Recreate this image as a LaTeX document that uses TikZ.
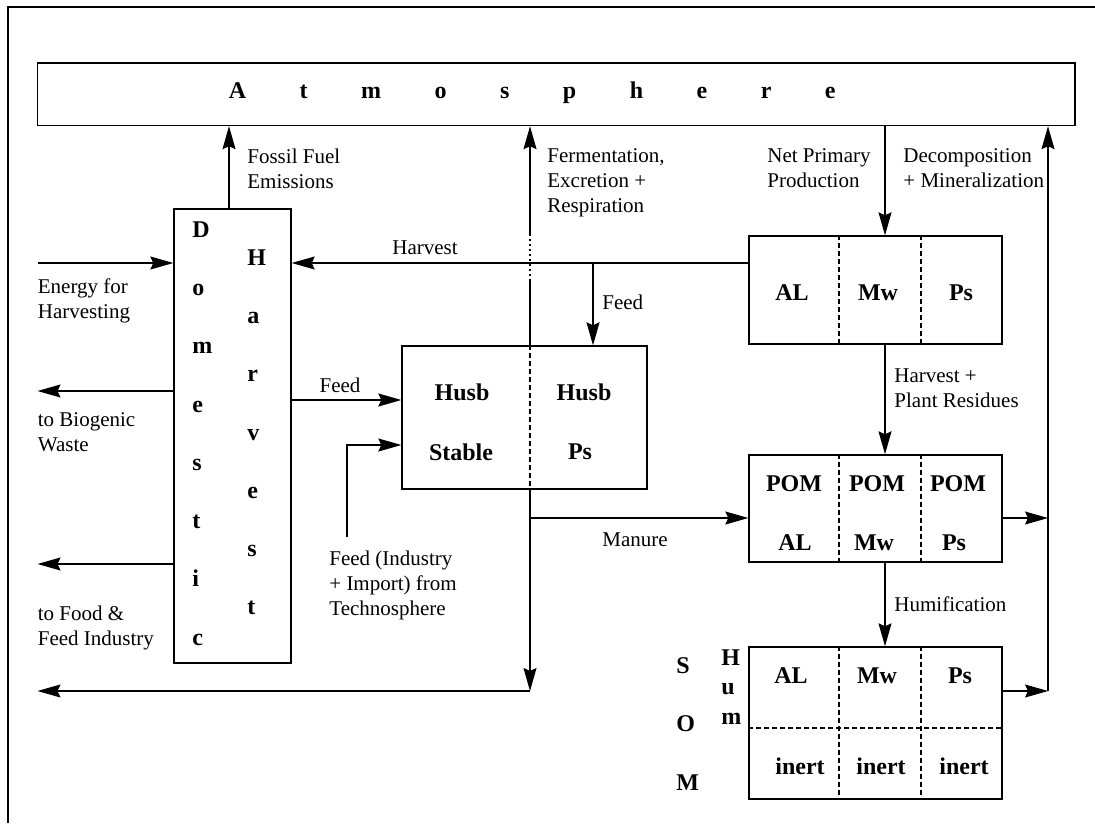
\documentclass[tikz,border=0pt]{standalone}
\usepackage{fontspec}
\setmainfont{Liberation Serif}
\usetikzlibrary{arrows.meta,fit}
\newcommand\atmgap{\hspace{26.75pt}}
\begin{document}
\begin{tikzpicture}[x=0.5pt,y=-0.5pt,
  box/.style={draw, line width=0.7pt, inner sep=0pt},
  conn/.style={line width=0.55pt},
  arr/.style={conn, -{Stealth[length=11.5pt,width=6.5pt,inset=1.5pt]}},
  divider/.style={line width=0.65pt, dash pattern=on 2.5pt off 1.5pt},
  dotline/.style={line width=0.75pt, dash pattern=on 1pt off 1.5pt},
  outerframe/.style={line width=1.1pt},
  lbl/.style={font=\fontsize{10.5pt}{12.5pt}\selectfont, inner sep=0pt, align=left},
  bl/.style={font=\fontsize{12pt}{14pt}\selectfont\bfseries, inner sep=0pt},
  col/.style={font=\fontsize{12pt}{29.15pt}\selectfont\bfseries, inner sep=0pt, align=left, anchor=north west}]
\useasboundingbox (0,0) rectangle (1095,823);
\draw[outerframe] (8,823) -- (8,7) -- (1095,7);

% boxes
\node[box, fit={(37.5,63) (1075,125.5)}] (atm) {};
\node[bl, anchor=base west] (atmtxt) at (228.4,99) {A\atmgap t\atmgap m\atmgap o\atmgap s\atmgap p\atmgap h\atmgap e\atmgap r\atmgap e};
\node[box, fit={(174,209) (291,663)}] (dom) {};
\node[col] (domtxt) at (192,221) {D\\o\\m\\e\\s\\t\\i\\c};
\node[col] (hartxt) at (247,249) {H\\a\\r\\v\\e\\s\\t};
\node[box, fit={(402,346) (647,489)}] (husb) {};
\node[box, fit={(749,236) (1002,344)}] (veg) {};
\node[box, fit={(749,455) (1002,562)}] (pom) {};
\node[box, fit={(749,647) (1002,799)}] (som) {};

% helper coordinates
\coordinate (xf) at (229,0);
\coordinate (xm) at (530,0);
\coordinate (xn) at (885,0);
\coordinate (dv1) at (839,0);
\coordinate (dv2) at (921,0);
\coordinate (sh) at (0,728);
\coordinate (fd1) at (530,281);
\coordinate (fd2) at (530,236);
\coordinate (hy) at (0,263);
\coordinate (fj) at (593,263);
\coordinate (dj1) at (1048,518);
\coordinate (dj2) at (1048,691);
\coordinate (el) at (37.5,263);
\coordinate (bw) at (37.5,391);
\coordinate (fw) at (37.5,564);
\coordinate (fy) at (0,400);
\coordinate (tf) at (347,537);
\coordinate (ty) at (0,445);
\coordinate (mj) at (530,518);
\coordinate (bc) at (530,691);
\coordinate (bleft) at (37.5,691);

% dividers
\foreach \b in {veg,pom,som} {
  \draw[divider] (\b.north -| dv1) -- (\b.south -| dv1);
  \draw[divider] (\b.north -| dv2) -- (\b.south -| dv2);
}
\draw[divider] (som.west |- sh) -- (som.east |- sh);
\draw[divider] (husb.north -| xm) -- (husb.south -| xm);

% connectors
\draw[arr] (dom.north -| xf) -- (atm.south -| xf);
\draw[conn] (husb.north -| xm) -- (fd1);
\draw[dotline] (fd1) -- (fd2);
\draw[arr] (fd2) -- (atm.south -| xm);
\draw[arr] (veg.west |- hy) -- (dom.east |- hy);
\draw[arr] (fj) -- (husb.north -| fj);
\draw[arr] (atm.south -| xn) -- (veg.north -| xn);
\draw[arr] (veg.south -| xn) -- (pom.north -| xn);
\draw[arr] (pom.south -| xn) -- (som.north -| xn);
\draw[arr] (dj2) -- (atm.south -| dj2);
\draw[arr] (pom.east |- dj1) -- (dj1);
\draw[arr] (som.east |- dj2) -- (dj2);
\draw[arr] (el) -- (dom.west |- el);
\draw[arr] (dom.west |- bw) -- (bw);
\draw[arr] (dom.west |- fw) -- (fw);
\draw[arr] (dom.east |- fy) -- (husb.west |- fy);
\draw[arr] (tf) |- (husb.west |- ty);
\draw[arr] (mj) -- (pom.west |- mj);
\draw[arr] (husb.south -| xm) -- (bc);
\draw[arr] (bc) -- (bleft);

% flow labels
\node[lbl, anchor=north west] (lfossil) at (247,148.6) {Fossil Fuel\\Emissions};
\node[lbl, anchor=north west] (lferm) at (547,148.6) {Fermentation,\\Excretion +\\Respiration};
\node[lbl, anchor=north west] (lnpp) at (767,148.6) {Net Primary\\Production};
\node[lbl, anchor=north west] (ldec) at (903,148.6) {Decomposition\\+ Mineralization};
\node[lbl, anchor=base] (lharv) at (425,255) {Harvest};
\node[lbl, anchor=base west] (lfeed1) at (602,309) {Feed};
\node[lbl, anchor=north west] (lenergy) at (37.5,278.6) {Energy for\\Harvesting};
\node[lbl, anchor=base] (lfeed2) at (340,392) {Feed};
\node[lbl, anchor=north west] (lbio) at (37.5,412.6) {to Biogenic\\Waste};
\node[lbl, anchor=north west] (ltech) at (329,550.6) {Feed (Industry\\+ Import) from\\Technosphere};
\node[lbl, anchor=base] (lman) at (635,546) {Manure};
\node[lbl, anchor=north west] (lres) at (894,368.6) {Harvest +\\Plant Residues};
\node[lbl, anchor=base west] (lhum) at (894,611) {Humification};
\node[lbl, anchor=north west] (lfood) at (37.5,605.6) {to Food \&\\Feed Industry};

% box labels
\node[bl, anchor=base] (v1) at (792,300) {AL};
\node[bl, anchor=base] (v2) at (878,300) {Mw};
\node[bl, anchor=base] (v3) at (961,300) {Ps};
\node[bl, anchor=base] (p1) at (794,491) {POM};
\node[bl, anchor=base] (p2) at (877,491) {POM};
\node[bl, anchor=base] (p3) at (958,491) {POM};
\node[bl, anchor=base] (p4) at (795,550) {AL};
\node[bl, anchor=base] (p5) at (874,550) {Mw};
\node[bl, anchor=base] (p6) at (954,550) {Ps};
\node[bl, anchor=base] (s1) at (791,683) {AL};
\node[bl, anchor=base] (s2) at (877,683) {Mw};
\node[bl, anchor=base] (s3) at (960,683) {Ps};
\node[bl, anchor=base] (s4) at (800,774) {inert};
\node[bl, anchor=base] (s5) at (881,774) {inert};
\node[bl, anchor=base] (s6) at (964,774) {inert};
\node[bl, anchor=base] (h1) at (462,400) {Husb};
\node[bl, anchor=base] (h2) at (584,400) {Husb};
\node[bl, anchor=base] (h3) at (461,460) {Stable};
\node[bl, anchor=base] (h4) at (580,459) {Ps};
\node[col, font=\fontsize{12pt}{29.25pt}\selectfont\bfseries] (somtxt) at (676,657) {S\\O\\M};
\node[col, font=\fontsize{12pt}{14.75pt}\selectfont\bfseries] (humtxt) at (721,649) {H\\u\\m};
\end{tikzpicture}
\end{document}
